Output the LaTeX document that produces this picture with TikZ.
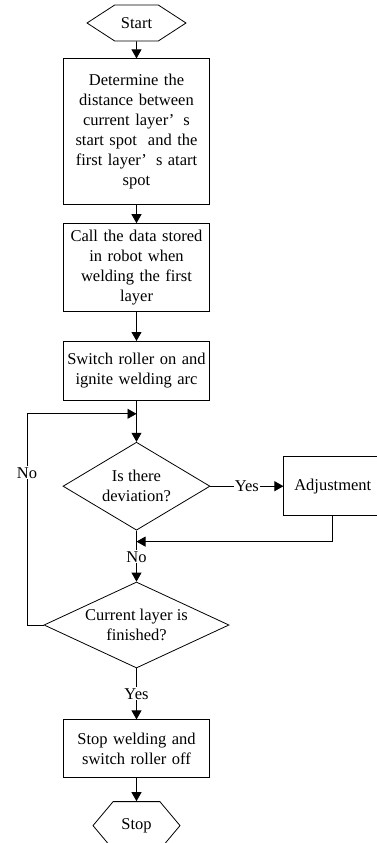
\documentclass[tikz,border=0pt]{standalone}
\usepackage{fontspec}
\setmainfont{Liberation Serif}
\usetikzlibrary{positioning}
\usetikzlibrary{shapes.geometric}
\usetikzlibrary{shapes.symbols}
\usetikzlibrary{arrows.meta}
\tikzset{
	every node/.style={font=\fontsize{16.5}{20}\selectfont},
	block/.style={
		draw, rectangle, text width=140pt, inner sep=3pt, align=center, fill=white
	},
	decision/.style={
		draw, diamond, aspect=2.2, inner sep=0pt, align=center
	},
	terminal/.style={
		draw, signal, signal to=west and east, inner sep=2pt
	},
	flow/.style={
		-{Triangle[length=9pt,width=10pt]}
	},
	tag/.style={
		fill=white, inner sep=1pt
	}
}

\begin{document}
\begin{tikzpicture}[line width=0.8pt]
\useasboundingbox (0,0) rectangle (377pt,-843pt);

\node[terminal, minimum width=99pt, minimum height=36pt, signal pointer angle=66] (start) at (136.5pt,-23pt) {Start};
\node[block, minimum height=146pt, below=17pt of start] (determine) {Determine the\\distance between\\current layer’\hspace{0.55em}s\\start spot\ \ and the\\first layer’\hspace{0.55em}s atart\\spot};
\node[block, minimum height=88pt, below=18pt of determine] (calldata) {Call the data stored\\in robot when\\welding the first\\layer};
\node[block, minimum height=59pt, below=29pt of calldata] (ignite) {Switch roller on and\\ignite welding arc};
\node[decision, minimum width=147pt, minimum height=88pt, below=41pt of ignite] (deviation) {Is there\\deviation?};
\node[block, text width=92pt, minimum height=59pt, right=73pt of deviation] (adjust) {Adjustment};
\node[decision, minimum width=185pt, minimum height=86pt, below=51pt of deviation] (finished) {Current layer is\\finished?};
\node[block, minimum height=58pt, below=51pt of finished] (stopweld) {Stop welding and\\switch roller off};
\node[terminal, minimum width=87pt, minimum height=48pt, signal pointer angle=100, below=23pt of stopweld] (stop) {Stop};

\coordinate[below=13pt of ignite] (merge);
\coordinate[below=11pt of deviation] (join);
\coordinate[left=109.5pt of merge] (back);

\draw[flow] (start) -- (determine);
\draw[flow] (determine) -- (calldata);
\draw[flow] (calldata) -- (ignite);
\draw (ignite) -- (merge);
\draw[flow] (merge) -- (deviation);
\draw[flow] (deviation) -- node[tag]{Yes} (adjust);
\draw (deviation) -- (join);
\draw[flow] (adjust.south) |- (join);
\draw[flow] (join) -- node[tag, pos=0.38]{No} (finished);
\draw[flow] (finished.west) -| node[tag, pos=0.86]{No} (back) -- (merge);
\draw[flow] (finished) -- node[tag]{Yes} (stopweld);
\draw[flow] (stopweld) -- (stop);

\end{tikzpicture}
\end{document}
